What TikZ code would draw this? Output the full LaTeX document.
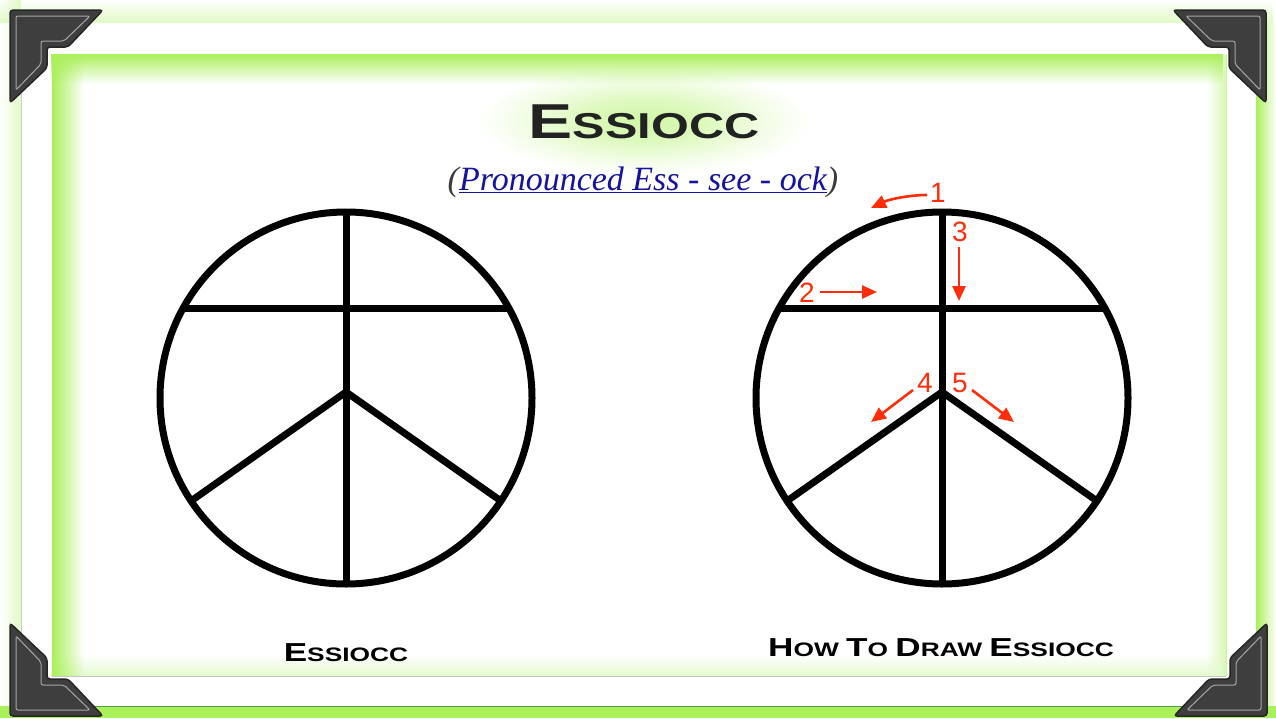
\documentclass[tikz,border=0pt]{standalone}
\usepackage{fontspec}
\setmainfont{Liberation Serif}
\newfontfamily\cpfont[FakeStretch=1.35]{Liberation Sans}
\newfontfamily\digitfont{Liberation Sans}
\usetikzlibrary{arrows.meta,fadings}
\definecolor{glowgreen}{RGB}{170,240,90}
\definecolor{arrowred}{RGB}{255,45,10}
\definecolor{linkblue}{RGB}{20,20,160}
\definecolor{parengray}{RGB}{60,60,60}
\definecolor{titlegray}{RGB}{34,34,34}
\definecolor{cornerfill}{RGB}{62,62,62}
\pgfdeclareradialshading{titleglow}{\pgfpoint{0bp}{0bp}}{%
  color(0bp)=(glowgreen!55!white); color(8bp)=(glowgreen!40!white);
  color(16bp)=(glowgreen!15!white); color(22bp)=(white); color(50bp)=(white)}
\newcommand\scw[4]{{\fontsize{#1}{#1}\selectfont #3}{\fontsize{#2}{#2}\selectfont #4}}
\begin{document}
\begin{tikzpicture}[x=1pt,y=-1pt,
  symline/.style={line width=7pt, black},
  redarrow/.style={arrowred, line width=2.6pt, -{Triangle[length=15pt,width=13pt]}},
  digit/.style={arrowred, font=\digitfont\fontsize{28}{28}\selectfont, inner sep=0pt},
  framecorner/.pic={
    \fill[cornerfill, draw=black!85, line width=1.5pt, rounded corners=3pt]
      (0,0) -- (93,0) -- (58,37) -- (37,37) -- (37,58) -- (0,93) -- cycle;
    \draw[gray!70, line width=1pt, rounded corners=2pt]
      (6,6) -- (80,6) -- (54,31) -- (31,31) -- (31,54) -- (6,80) -- cycle;
  }]
\useasboundingbox (0,0) rectangle (1276,718);
\fill[white] (0,0) rectangle (1276,718);
% outer glow
\fill[glowgreen!35, path fading=west] (0,0) rectangle (21,718);
\fill[glowgreen!35, path fading=north] (0,0) rectangle (1276,23);
\fill[glowgreen, path fading=east] (1256,23) rectangle (1276,718);
\fill[glowgreen] (0,706) rectangle (1276,718);
\draw[green!45!black!70, line width=1.5pt] (21,706.5) -- (1256,706.5);
% outer panel
\fill[white] (21,23) rectangle (1256,706);
\draw[gray!40, line width=1pt] (21,23) -- (21,706);
% title glow
\shade[shading=titleglow] (644,121) ellipse [x radius=190, y radius=62];
% inner panel glow
\fill[glowgreen!45, path fading=west] (1206,54) rectangle (1226,676);
\fill[glowgreen!30, path fading=north] (52,655) rectangle (1226,676);
\fill[glowgreen, path fading=south] (52,54) rectangle (1226,84);
\fill[glowgreen, path fading=east] (52,54) rectangle (84,676);
\draw[gray!45, line width=1pt] (52,676) -- (1226,676);
\draw[glowgreen!60, line width=0.8pt] (1226,54) -- (1226,676);
% corners
\pic at (10,10) {framecorner};
\pic[xscale=-1] at (1266,10) {framecorner};
\pic[yscale=-1] at (10,716) {framecorner};
\pic[xscale=-1,yscale=-1] at (1267,716) {framecorner};
% title
\node[anchor=base, inner sep=0pt, text=titlegray, font=\cpfont\bfseries] (title) at (644,138) {\scw{49}{36}{E}{SSIOCC}};
\node[anchor=base, inner sep=0pt] (sub) at (643,190)
  {\fontsize{34}{40}\selectfont\itshape\textcolor{parengray}{(}\textcolor{linkblue}{\underline{Pronounced Ess - see - ock}}\textcolor{parengray}{)}};
% left symbol
\coordinate (lc) at (346,398);
\begin{scope}[shift={(lc)}]
  \draw[symline] (0,0) circle[radius=186];
  \draw[symline] (0,-186) -- (0,186);
  \draw[symline] (-163,-90) -- (163,-90);
  \draw[symline] (0,-6) -- (-155,103);
  \draw[symline] (0,-6) -- (155,103);
\end{scope}
% right symbol
\coordinate (rc) at (942,398);
\begin{scope}[shift={(rc)}]
  \draw[symline] (0,0) circle[radius=186];
  \draw[symline] (0,-186) -- (0,186);
  \draw[symline] (-163,-90) -- (163,-90);
  \draw[symline] (0,-6) -- (-155,103);
  \draw[symline] (0,-6) -- (155,103);
\end{scope}
% stroke order annotations
\node[digit] (n1) at (938,193) {1};
\node[digit] (n2) at (807,293) {2};
\node[digit] (n3) at (960,232) {3};
\node[digit] (n4) at (925,383) {4};
\node[digit] (n5) at (960,383) {5};
\coordinate (a1s) at (927,195); \coordinate (a1e) at (871,208);
\coordinate (a2s) at (820,292); \coordinate (a2e) at (877,292);
\coordinate (a3s) at (959,247); \coordinate (a3e) at (959,301);
\coordinate (a4s) at (913,390); \coordinate (a4e) at (871,422);
\coordinate (a5s) at (972,390); \coordinate (a5e) at (1014,422);
\draw[redarrow] (a1s) .. controls (910,195) and (890,199) .. (a1e);
\draw[redarrow] (a2s) -- (a2e);
\draw[redarrow] (a3s) -- (a3e);
\draw[redarrow] (a4s) -- (a4e);
\draw[redarrow] (a5s) -- (a5e);
% labels
\node[anchor=base, inner sep=0pt, font=\cpfont\bfseries\fontsize{19.5}{20}\selectfont] (lab1) at (346,661) {\scw{26}{19.5}{E}{SSIOCC}};
\node[anchor=base, inner sep=0pt, font=\cpfont\bfseries\fontsize{19.5}{20}\selectfont] (lab2) at (941,656)
  {\scw{26}{19.5}{H}{OW}~\scw{26}{19.5}{T}{O}~\scw{26}{19.5}{D}{RAW}~\scw{26}{19.5}{E}{SSIOCC}};
\end{tikzpicture}
\end{document}
